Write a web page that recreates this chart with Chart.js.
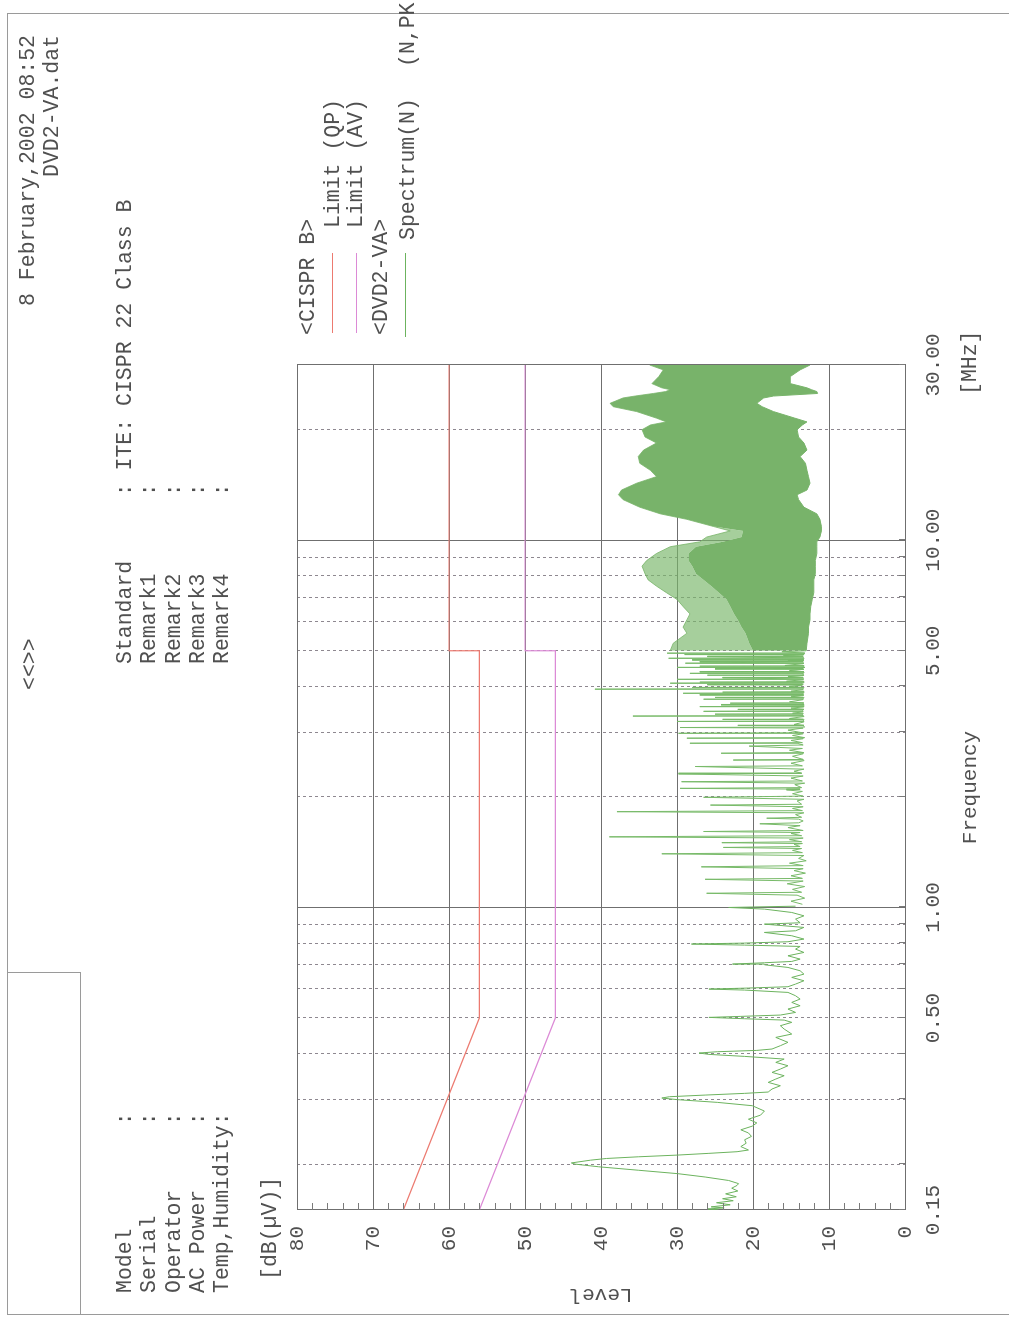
<!DOCTYPE html>
<html>
<head>
<meta charset="utf-8">
<script src="https://cdn.jsdelivr.net/npm/chart.js@4.4.1/dist/chart.umd.min.js"></script>
<style>
  html, body { margin:0; padding:0; background:#fff; overflow:hidden; width:1009px; height:1321px; }
  #page { position:absolute; left:0; top:0; width:1321px; height:1009px; transform-origin:0 0;
          transform: translate(0px,1321px) rotate(-90deg); overflow:hidden; background:#fff; }
  #c { position:absolute; left:0; top:0; }
  .t { position:absolute; font-family:"Liberation Mono", "DejaVu Sans Mono", monospace; font-size:21.5px;
       line-height:22px; color:#505050; white-space:pre; }
  .blk { line-height:24.3px; }
  .frame { position:absolute; border:1.5px solid #9a9a9a; box-sizing:border-box; }
  .lg { position:absolute; height:0; border-top:1px solid; }
</style>
</head>
<body>
<div id="page">
  <div class="frame" style="left:6px; top:7px; width:1302px; height:1100px;"></div>
  <div class="frame" style="left:6px; top:7px; width:343px; height:74px;"></div>
  <canvas id="c" width="1321" height="1009"></canvas>

  <div class="t" style="right:35px; top:17px;">8 February,2002 08:52</div>
  <div class="t" style="right:35px; top:41px;">DVD2-VA.dat</div>
  <div class="t" style="left:631px; top:19px;">&lt;&lt;&gt;&gt;</div>

  <div class="t blk" style="left:28px; top:113px;">Model        :
Serial       :
Operator     :
AC Power     :
Temp,Humidity:</div>
  <div class="t blk" style="left:657px; top:113px;">Standard     : ITE: CISPR 22 Class B
Remark1      :
Remark2      :
Remark3      :
Remark4      :</div>

  <div class="t" style="left:986px; top:297px;">&lt;CISPR B&gt;</div>
  <div class="lg" style="left:988px; width:80px; top:332px; border-color:#ec7a70;"></div>
  <div class="t" style="left:1093px; top:322px;">Limit (QP)</div>
  <div class="lg" style="left:988px; width:80px; top:356px; border-color:#dc8ad6;"></div>
  <div class="t" style="left:1093px; top:345px;">Limit (AV)</div>
  <div class="t" style="left:986px; top:370px;">&lt;DVD2-VA&gt;</div>
  <div class="lg" style="left:984px; width:84px; top:405px; border-color:#6cb35e;"></div>
  <div class="t" style="left:1081px; top:397px;">Spectrum(N)</div>
  <div class="t" style="left:1254px; top:397px;">(N,PK)</div>

  <div class="t" style="left:41px; top:259px;">[dB(µV)]</div>
  <div class="t" style="left:926px; top:959px;">[MHz]</div>
</div>

<script>
// ---- axis ticks ----
const freqTicks   = [0.15,0.2,0.3,0.4,0.5,0.6,0.7,0.8,0.9,1,2,3,4,5,6,7,8,9,10,20,30];
const freqLabels  = [0.15,0.5,1,5,10,30];
const solidFreqs  = [0.15,1,10,30];
const levelTicks  = [0,10,20,30,40,50,60,70,80];
const levelMinor  = [2,4,6,8,12,14,16,18,22,24,26,28,32,34,36,38,42,44,46,48,52,54,56,58,62,64,66,68,72,74,76,78];

// ---- CISPR 22 class B limits ----
const limitFreq = [0.15,0.5,5,5,30];
const limitQP   = [66,56,56,60,60];
const limitAV   = [56,46,46,50,50];

// ---- spectrum (N, PK) 0.15 - 1 MHz : [MHz, dBuV] ----
const specLow = [
 [0.150,24.5],[0.151,26.0],[0.152,23.8],[0.153,25.5],[0.155,23.0],[0.157,24.8],[0.159,22.6],[0.161,24.0],
 [0.163,22.2],[0.166,23.6],[0.169,22.0],[0.172,22.8],[0.175,22.1],[0.177,21.9],[0.1805,23.2],[0.1845,26.3],
 [0.1884,29.9],[0.1925,35.1],[0.1967,40.3],[0.200,43.4],[0.2015,43.9],[0.205,41.4],[0.2072,39.3],[0.2094,35.1],
 [0.2117,29.9],[0.214,25.8],[0.2162,22.1],[0.2185,20.6],[0.2233,21.6],[0.228,20.9],[0.233,21.1],[0.238,20.2],
 [0.2432,20.6],[0.248,21.6],[0.2538,20.1],[0.259,19.5],[0.2651,20.6],[0.272,19.0],[0.279,18.5],[0.2885,20.1],
 [0.2946,24.7],[0.2996,29.9],[0.3027,32.0],[0.3052,31.0],[0.3084,26.3],[0.3117,21.1],[0.3143,18.0],[0.3203,17.5],
 [0.327,16.4],[0.3339,18.0],[0.341,17.0],[0.3482,15.9],[0.3555,17.5],[0.363,16.4],[0.3707,15.4],[0.3785,17.0],
 [0.3865,15.9],[0.393,21.1],[0.398,25.8],[0.4014,27.1],[0.4047,24.7],[0.4081,19.5],[0.4116,17.5],[0.4203,16.4],
 [0.4292,15.4],[0.4427,17.0],[0.4521,14.9],[0.4665,15.9],[0.4764,16.4],[0.4865,14.9],[0.4935,15.9],[0.4977,21.1],
 [0.5019,25.8],[0.5051,21.6],[0.5093,16.4],[0.5178,14.4],[0.5288,15.4],[0.540,13.8],[0.5514,14.9],[0.563,13.8],
 [0.5749,14.4],[0.587,15.4],[0.5957,21.1],[0.5994,25.8],[0.6033,20.6],[0.6083,15.4],[0.6185,14.4],[0.6315,13.3],
 [0.6449,14.9],[0.6584,13.3],[0.6723,13.8],[0.6865,15.4],[0.6981,18.5],[0.7011,22.7],[0.707,18.5],[0.7128,14.9],
 [0.7233,13.8],[0.7386,15.4],[0.7542,13.3],[0.7701,14.4],[0.7831,13.8],[0.7897,21.1],[0.7949,28.1],[0.7998,21.1],
 [0.8065,15.4],[0.8202,13.3],[0.8375,14.9],[0.855,18.5],[0.864,14.4],[0.8823,13.3],[0.9007,18.5],[0.9084,13.8],
 [0.9294,14.4],[0.9489,13.3],[0.969,14.9],[0.9897,18.5],[1.000,23.2],[1.008,14.4]
];

// ---- spectrum (N, PK) 1 - 5 MHz : [MHz, dBuV] ----
const specMid = [
 [1.02,13.5],[1.04,15.0],[1.06,13.2],[1.08,14.2],[1.093,26.1],[1.10,13.6],[1.12,14.8],[1.14,13.2],[1.16,15.5],
 [1.18,13.4],[1.193,26.3],[1.20,13.5],[1.22,15.0],[1.24,13.1],[1.26,14.6],[1.275,13.4],[1.29,26.8],[1.30,13.4],
 [1.32,15.2],[1.34,13.0],[1.36,14.0],[1.385,13.3],[1.40,32.0],[1.41,13.5],[1.43,14.8],[1.447,13.6],[1.457,23.9],
 [1.465,13.8],[1.485,14.6],[1.493,13.5],[1.501,24.1],[1.51,13.6],[1.53,15.2],[1.545,13.4],[1.557,38.9],[1.568,13.6],
 [1.59,15.0],[1.60,13.8],[1.61,26.5],[1.62,13.4],[1.65,15.4],[1.67,13.8],[1.69,19.1],[1.70,14.0],[1.72,13.4],
 [1.74,14.0],[1.75,18.2],[1.76,13.6],[1.79,14.4],[1.81,13.3],[1.823,37.9],[1.835,13.5],[1.86,14.8],[1.88,13.4],
 [1.90,25.6],[1.91,13.6],[1.95,14.2],[1.97,13.3],[1.995,26.5],[2.01,13.4],[2.04,14.8],[2.07,13.5],[2.09,15.6],
 [2.10,13.8],[2.11,29.6],[2.12,13.6],[2.16,14.5],[2.18,13.2],[2.20,29.4],[2.21,13.5],[2.25,15.0],[2.28,13.4],
 [2.31,29.8],[2.32,13.6],[2.35,14.6],[2.38,13.3],[2.42,27.6],[2.43,13.5],[2.47,15.0],[2.51,13.3],[2.52,22.6],
 [2.53,13.4],[2.58,14.8],[2.62,13.4],[2.63,24.2],[2.64,13.3],[2.68,15.2],[2.71,13.5],[2.75,20.5],[2.77,13.4],
 [2.79,14.0],[2.80,28.3],[2.81,13.5],[2.85,15.0],[2.88,13.4],[2.89,28.7],[2.90,13.2],[2.94,14.8],[2.97,13.4],
 [2.98,29.8],[2.99,13.5],[3.04,15.4],[3.08,13.4],[3.09,29.6],[3.10,13.2],[3.125,13.4],[3.13,22.0],[3.135,13.3],
 [3.15,14.6],[3.20,13.3],[3.21,30.0],[3.22,13.4],[3.245,13.3],[3.25,24.0],[3.255,13.4],[3.27,15.2],[3.31,13.3],
 [3.32,35.8],[3.33,13.4],[3.355,13.5],[3.36,25.0],[3.365,13.4],[3.38,14.8],[3.41,13.4],[3.42,26.5],[3.43,13.5],
 [3.455,13.4],[3.46,22.0],[3.465,13.3],[3.49,15.0],[3.515,13.4],[3.52,27.0],[3.525,13.3],[3.55,13.3],[3.56,24.2],
 [3.57,13.3],[3.595,13.4],[3.60,23.0],[3.605,13.3],[3.63,15.2],[3.68,13.4],[3.69,26.5],[3.70,13.4],[3.725,13.3],
 [3.73,25.0],[3.735,13.4],[3.76,15.0],[3.785,13.3],[3.79,27.0],[3.795,13.4],[3.82,13.4],[3.83,29.2],[3.84,13.3],
 [3.855,13.4],[3.86,24.0],[3.865,13.3],[3.88,15.0],[3.92,13.4],[3.93,40.8],[3.94,13.4],[3.965,13.3],[3.97,28.0],
 [3.975,13.4],[4.00,15.2],[4.03,13.5],[4.04,26.0],[4.05,13.4],[4.07,13.6],[4.08,30.9],[4.09,13.3],[4.105,13.4],
 [4.11,27.0],[4.115,13.3],[4.13,15.6],[4.17,13.4],[4.18,30.0],[4.19,13.3],[4.22,24.0],[4.23,13.4],[4.26,15.4],
 [4.285,13.3],[4.29,26.0],[4.295,13.4],[4.33,13.4],[4.34,28.3],[4.35,13.3],[4.375,13.4],[4.38,27.0],[4.385,13.3],
 [4.42,15.2],[4.45,13.3],[4.46,25.0],[4.47,13.4],[4.49,13.5],[4.50,30.0],[4.51,13.2],[4.535,13.4],[4.54,27.0],
 [4.545,13.3],[4.56,15.8],[4.61,13.4],[4.62,28.9],[4.63,13.3],[4.66,27.0],[4.67,13.4],[4.70,15.4],[4.715,13.3],
 [4.72,28.0],[4.725,13.4],[4.76,13.3],[4.77,31.1],[4.78,13.3],[4.82,26.0],[4.83,13.4],[4.85,16.0],[4.875,13.4],
 [4.88,29.0],[4.885,13.3],[4.91,13.3],[4.92,31.3],[4.93,13.2],[4.97,16.2],[5.00,13.0]
];

// ---- spectrum 5 - 30 MHz, dense band: envelopes (dBuV) ----
const bandFreq  = [5.0,5.24,5.58,5.8,6.07,6.3,6.6,6.9,7.2,7.5,7.8,8.1,8.5,8.8,9.2,9.6,9.9,10.2,10.6,10.9,
                   11.4,11.8,12.3,12.9,13.3,13.7,14.3,14.9,15.5,16.2,16.9,17.6,18.4,19.1,20.0,20.6,21.0,21.5,22.4,23.1,
                   23.6,24.4,24.7,25.1,25.4,25.7,26.0,26.7,27.9,29.1,30.0];
const bandUpper = [30.9,30.5,28.7,29.2,28.7,28.3,29.2,30.0,31.4,32.7,33.8,34.2,34.6,34.0,32.7,30.9,27.0,26.1,23.0,25.2,
                   28.7,32.2,34.9,37.1,37.7,37.3,35.3,32.7,33.5,34.9,35.1,34.4,32.7,34.2,34.6,33.5,31.4,32.7,35.3,38.4,
                   38.8,37.1,35.5,33.1,31.5,30.9,32.0,33.3,32.4,31.8,33.6];
const bandCore  = [20.0,20.5,21.0,21.5,22.0,22.5,23.0,23.5,24.5,25.5,26.5,27.5,28.0,28.5,28.5,27.5,24.0,21.5,21.3,25.2,
                   28.7,32.2,34.9,37.1,37.7,37.3,35.3,32.7,33.5,34.9,35.1,34.4,32.7,34.2,34.6,33.5,31.4,32.7,35.3,38.4,
                   38.8,37.1,35.5,33.1,31.5,30.9,32.0,33.3,32.4,31.8,33.6];
const bandLower = [13.0,12.9,12.7,12.7,12.5,12.5,12.4,12.2,12.0,12.0,12.0,11.8,11.8,11.8,11.6,11.6,11.6,11.2,11.0,11.0,
                   11.2,11.6,13.3,14.0,14.2,12.9,12.5,12.7,12.9,13.1,13.8,12.9,13.3,14.0,14.2,13.5,12.9,14.5,17.3,18.8,
                   19.5,18.6,17.3,11.5,11.6,12.3,12.9,15.1,15.1,13.8,12.5];

const pts = (fs, ls) => fs.map((f, i) => ({x: f, y: ls[i]}));
const pairs = arr => arr.map(p => ({x: p[0], y: p[1]}));

const GREEN = '#6cb35e';
const minorTickPlugin = {
  id: 'minorTicks',
  afterDatasetsDraw(chart) {
    const {ctx, chartArea: a, scales: {x, y}} = chart;
    ctx.save();
    ctx.strokeStyle = '#7a7a7a';
    ctx.lineWidth = 1;
    ctx.beginPath();
    levelMinor.forEach(v => {
      const py = Math.round(y.getPixelForValue(v)) + 0.5;
      ctx.moveTo(a.left, py); ctx.lineTo(a.left + 7, py);
    });
    freqTicks.forEach(f => {
      const px = Math.round(x.getPixelForValue(f)) + 0.5;
      ctx.moveTo(px, a.bottom); ctx.lineTo(px, a.bottom - 6);
    });
    ctx.stroke();
    ctx.restore();
  }
};

Chart.defaults.font.family = '"Liberation Mono", "DejaVu Sans Mono", monospace';
Chart.defaults.font.size = 21;
Chart.defaults.color = '#505050';

new Chart(document.getElementById('c'), {
  type: 'line',
  data: {
    datasets: [
      { label: 'Limit (QP)', data: pts(limitFreq, limitQP), borderColor: '#ec7a70', borderWidth: 1.2, pointRadius: 0, fill: false },
      { label: 'Limit (AV)', data: pts(limitFreq, limitAV), borderColor: '#dc8ad6', borderWidth: 1.2, pointRadius: 0, fill: false },
      { label: 'Spectrum(N) low', data: pairs(specLow), borderColor: GREEN, borderWidth: 1, pointRadius: 0, fill: false },
      { label: 'Spectrum(N) mid', data: pairs(specMid), borderColor: '#78ba69', borderWidth: 1, pointRadius: 0, fill: false },
      { label: 'band lower', data: pts(bandFreq, bandLower), borderColor: '#78b46a', borderWidth: 1, pointRadius: 0, fill: false },
      { label: 'band core', data: pts(bandFreq, bandCore), borderColor: 'rgba(0,0,0,0)', borderWidth: 0, pointRadius: 0,
        fill: '-1', backgroundColor: '#78b36a' },
      { label: 'band upper', data: pts(bandFreq, bandUpper), borderColor: 'rgba(120,180,105,0.8)', borderWidth: 1, pointRadius: 0,
        fill: '-1', backgroundColor: 'rgba(120,182,104,0.66)' }
    ]
  },
  options: {
    responsive: false,
    animation: false,
    events: [],
    layout: { padding: { left: 0, top: 297, right: 365, bottom: 0 } },
    plugins: { legend: { display: false }, tooltip: { enabled: false } },
    elements: { line: { tension: 0 } },
    scales: {
      x: {
        type: 'logarithmic', min: 0.15, max: 30,
        afterBuildTicks: s => { s.ticks = freqTicks.map(v => ({ value: v })); },
        afterFit: s => { s.height = 104; },
        ticks: {
          autoSkip: false, maxRotation: 0, padding: 16, color: '#505050',
          callback: v => freqLabels.includes(v) ? v.toFixed(2) : ''
        },
        grid: {
          drawTicks: false,
          color: c => (c.tick && solidFreqs.includes(c.tick.value)) ? '#6f6f6f' : '#8e8890',
          lineWidth: 1
        },
        border: {
          color: '#6f6f6f', width: 1,
          dash: c => (c.tick && !solidFreqs.includes(c.tick.value)) ? [3, 3] : []
        },
        title: { display: true, text: 'Frequency', color: '#505050', padding: { top: 4, bottom: 26 } }
      },
      y: {
        type: 'linear', min: 0, max: 80,
        afterBuildTicks: s => { s.ticks = levelTicks.map(v => ({ value: v })); },
        afterFit: s => { s.width = 111; },
        ticks: { padding: 16, color: '#505050' },
        grid: { drawTicks: false, color: '#6f6f6f', lineWidth: 1 },
        border: { color: '#6f6f6f', width: 1 },
        title: { display: true, text: 'Level', color: '#505050', padding: { top: 14, bottom: 4 } }
      }
    }
  },
  plugins: [minorTickPlugin]
});
</script>
</body>
</html>
